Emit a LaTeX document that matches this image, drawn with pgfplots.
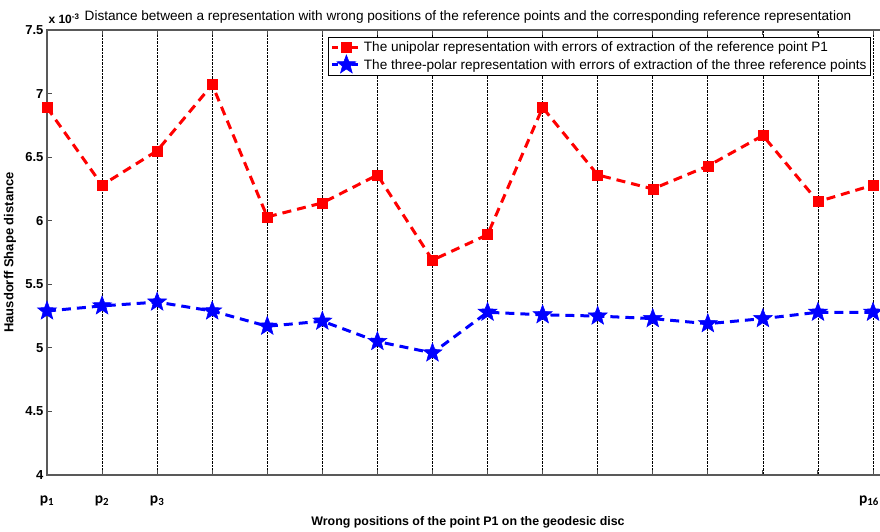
\documentclass[border=0pt]{standalone}
\usepackage{pgfplots}
\pgfplotsset{compat=1.18}
\usepackage{fontspec}
\setmainfont{Liberation Sans}
\newfontfamily\calib{Carlito}
\usetikzlibrary{calc}
\pgfdeclareplotmark{fstar}{%
  \pgfpathmoveto{\pgfpointpolar{90}{\pgfplotmarksize}}%
  \pgfpathlineto{\pgfpointpolar{126}{0.42\pgfplotmarksize}}%
  \pgfpathlineto{\pgfpointpolar{162}{\pgfplotmarksize}}%
  \pgfpathlineto{\pgfpointpolar{198}{0.42\pgfplotmarksize}}%
  \pgfpathlineto{\pgfpointpolar{234}{\pgfplotmarksize}}%
  \pgfpathlineto{\pgfpointpolar{270}{0.42\pgfplotmarksize}}%
  \pgfpathlineto{\pgfpointpolar{306}{\pgfplotmarksize}}%
  \pgfpathlineto{\pgfpointpolar{342}{0.42\pgfplotmarksize}}%
  \pgfpathlineto{\pgfpointpolar{18}{\pgfplotmarksize}}%
  \pgfpathlineto{\pgfpointpolar{54}{0.42\pgfplotmarksize}}%
  \pgfpathclose\pgfusepathqfillstroke}
\begin{document}
\begin{tikzpicture}
\begin{axis}[name=ax, scale only axis, width=842pt, height=445pt,
  xmin=1, xmax=16.29, ymin=4, ymax=7.5,
  xtick={1,...,16},
  xticklabels={{\calib\bfseries p\textsubscript{1}},{\calib\bfseries p\textsubscript{2}},{\calib\bfseries p\textsubscript{3}},,,,,,,,,,,,,{\calib\bfseries p\textsubscript{16}\hspace*{8pt}}},
  xticklabel style={font=\fontsize{15.5}{16}\selectfont, yshift=-17pt},
  ytick={4,4.5,...,7.5},
  yticklabel style={font=\fontsize{13}{13}\selectfont\bfseries},
  /pgf/number format/assume math mode=true,
  tick align=inside, major tick length=5pt,
  tick style={black!70, line width=1pt},
  axis line style={black!65, line width=1.3pt},
  xmajorgrids, grid style={black, densely dotted, line width=0.7pt},
  legend style={at={(rel axis cs:0.9786,0.984)}, anchor=north east, draw=black, line width=0.8pt,
    font=\fontsize{13.6}{15}\selectfont, cells={anchor=west}, row sep=0pt, inner sep=2pt},
  legend image code/.code={\draw[#1, mark=none, dash pattern=on 6pt off 4pt] (0pt,0pt) -- (28pt,0pt);
     \draw[#1, solid] plot coordinates {(14pt,0pt)};},
]
\addplot[red, line width=3pt, dash pattern=on 9pt off 6pt, mark=square*, mark size=5pt, mark options={solid, line width=0.5pt}]
coordinates {(1,6.89)(2,6.28)(3,6.55)(4,7.07)(5,6.03)(6,6.14)(7,6.36)(8,5.69)(9,5.89)(10,6.89)(11,6.36)(12,6.25)(13,6.43)(14,6.67)(15,6.15)(16,6.28)};
\addlegendentry{The unipolar representation with errors of extraction of the reference point P1}
\addplot[blue, line width=3pt, dash pattern=on 9pt off 6pt, mark=fstar, mark size=10pt, mark options={solid, line width=0.5pt}]
coordinates {(1,5.29)(2,5.33)(3,5.36)(4,5.29)(5,5.17)(6,5.21)(7,5.05)(8,4.96)(9,5.28)(10,5.26)(11,5.25)(12,5.23)(13,5.19)(14,5.23)(15,5.28)(16,5.28)};
\addlegendentry{The three-polar representation with errors of extraction of the three reference points}
\end{axis}
\node[anchor=base west, font=\fontsize{12}{12}\selectfont\bfseries] at ($(ax.north west)+(-2pt,6pt)$) {x 10\textsuperscript{-3}};
\node[anchor=base, font=\fontsize{13.6}{14}\selectfont] at ($(ax.north west)!0.5!(ax.north east)+(0,9pt)$) {Distance between a representation with wrong positions of the reference points and the corresponding reference representation};
\node[anchor=base, font=\fontsize{12.4}{13}\selectfont\bfseries] at ($(ax.south west)!0.5!(ax.south east)+(0,-50pt)$) {Wrong positions of the point P1 on the geodesic disc};
\node[rotate=90, font=\fontsize{13}{13}\selectfont\bfseries] at ($(ax.south west)!0.5!(ax.north west)+(-37pt,0)$) {Hausdorff Shape distance};
\pgfresetboundingbox
\path[use as bounding box] ($(ax.south west)+(-47pt,-56pt)$) rectangle ($(ax.south west)+(833pt,475pt)$);
\end{tikzpicture}
\end{document}
